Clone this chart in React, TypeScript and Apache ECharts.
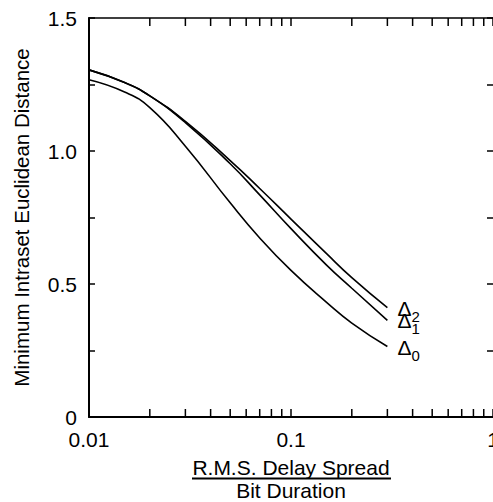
import React, { useEffect, useRef } from 'react';
import * as echarts from 'echarts';

const xValues = [0.01, 0.015, 0.02, 0.03, 0.05, 0.07, 0.1, 0.15, 0.2, 0.3];
const delta2 = [1.305, 1.2575, 1.2075, 1.111, 0.964, 0.859, 0.744, 0.614, 0.524, 0.411];
const delta1 = [1.305, 1.2575, 1.2075, 1.107, 0.952, 0.835, 0.708, 0.571, 0.484, 0.363];
const delta0 = [1.268, 1.222, 1.163, 1.018, 0.805, 0.673, 0.551, 0.431, 0.353, 0.265];
const seriesSubs = ['2', '1', '0'];
const minorTickValues = [0.02, 0.03, 0.04, 0.05, 0.06, 0.07, 0.08, 0.09, 0.2, 0.3, 0.4, 0.5, 0.6, 0.7, 0.8, 0.9];
const yLabelMap: Record<string, string> = { '0': '0', '0.5': '0.5', '1': '1.0', '1.5': '1.5' };
const xLabelMap: Record<string, string> = { '0.01': '0.01', '0.1': '0.1', '1': '1' };
const yAxisTitle = 'Minimum Intraset Euclidean Distance';
const xTitleTop = 'R.M.S. Delay Spread';
const xTitleBottom = 'Bit Duration';

const FONT = '"Liberation Sans", Arial, Helvetica, sans-serif';

export default function App() {
  const ref = useRef<HTMLDivElement>(null);
  useEffect(() => {
    document.body.style.margin = '0';
    const chart = echarts.init(ref.current!, null, { renderer: 'svg' });
    const allSeries = [delta2, delta1, delta0];
    const lineSeries = allSeries.map((vals, k) => ({
      type: 'line',
      xAxisIndex: 0,
      yAxisIndex: 0,
      data: xValues.map((x, i) => [x, vals[i]]),
      smooth: true,
      symbol: 'none',
      showSymbol: false,
      silent: true,
      lineStyle: { color: '#000', width: 1.6 },
      endLabel: {
        show: true,
        distance: 10,
        offset: [0, 3],
        formatter: `{d|Δ}{s|${seriesSubs[k]}}`,
        rich: {
          d: { fontFamily: FONT, fontSize: 21, color: '#000', lineHeight: 26, verticalAlign: 'top' },
          s: { fontFamily: FONT, fontSize: 15, color: '#000', lineHeight: 20, verticalAlign: 'bottom' },
        },
      },
    }));
    const option: any = {
      animation: false,
      textStyle: { fontFamily: FONT, color: '#000' },
      grid: { left: 89, top: 18, right: 0, bottom: 85, containLabel: false, outerBoundsMode: 'none' },
      xAxis: [
        {
          type: 'log',
          logBase: 10,
          min: 0.01,
          max: 1,
          position: 'bottom',
          axisLine: { onZero: false, lineStyle: { color: '#000', width: 2 } },
          axisTick: { inside: true, length: 8, lineStyle: { color: '#000', width: 1.5 } },
          axisLabel: {
            margin: 12,
            fontSize: 21,
            color: '#000',
            fontFamily: FONT,
            formatter: (v: number) => xLabelMap[String(+v.toPrecision(6))] ?? '',
          },
          splitLine: { show: false },
        },
        {
          type: 'log',
          logBase: 10,
          min: 0.01,
          max: 1,
          position: 'top',
          axisLine: { onZero: false, lineStyle: { color: '#000', width: 1.5 } },
          axisTick: { inside: true, length: 8, lineStyle: { color: '#000', width: 1.5 } },
          axisLabel: { show: false },
          splitLine: { show: false },
        },
      ],
      yAxis: [
        {
          type: 'value',
          min: 0,
          max: 1.5,
          interval: 0.25,
          position: 'left',
          name: yAxisTitle,
          nameLocation: 'middle',
          nameGap: 57,
          nameTextStyle: { fontSize: 20.5, color: '#000', fontFamily: FONT },
          axisLine: { onZero: false, lineStyle: { color: '#000', width: 2 } },
          axisTick: { inside: true, length: 6, lineStyle: { color: '#000', width: 1.5 } },
          axisLabel: {
            margin: 12,
            fontSize: 21,
            color: '#000',
            fontFamily: FONT,
            formatter: (v: number) => yLabelMap[String(+v.toFixed(2))] ?? '',
          },
          splitLine: { show: false },
        },
        {
          type: 'value',
          min: 0,
          max: 1.5,
          interval: 0.25,
          position: 'right',
          axisLine: { show: false, onZero: false },
          axisTick: { show: true, inside: true, length: 6, lineStyle: { color: '#000', width: 1.5 } },
          axisLabel: { show: false },
          splitLine: { show: false },
        },
      ],
      series: [
        ...lineSeries,
        {
          type: 'custom',
          xAxisIndex: 0,
          yAxisIndex: 0,
          silent: true,
          data: minorTickValues.map((v) => [v, 0]),
          renderItem: (params: any, api: any) => {
            const v = api.value(0);
            const pb = api.coord([v, 0]);
            const pt = api.coord([v, 1.5]);
            const st = { stroke: '#000', lineWidth: 1.5 };
            return {
              type: 'group',
              children: [
                { type: 'line', shape: { x1: pb[0], y1: pb[1], x2: pb[0], y2: pb[1] - 8 }, style: st },
                { type: 'line', shape: { x1: pt[0], y1: pt[1], x2: pt[0], y2: pt[1] + 8 }, style: st },
              ],
            };
          },
        },
      ],
      graphic: [
        {
          type: 'text',
          x: 291,
          y: 467,
          style: { text: xTitleTop, font: `21px ${FONT}`, fill: '#000', textAlign: 'center', textVerticalAlign: 'middle' },
        },
        {
          type: 'line',
          shape: { x1: 192, y1: 478.5, x2: 391, y2: 478.5 },
          style: { stroke: '#000', lineWidth: 1.8 },
        },
        {
          type: 'text',
          x: 291,
          y: 490,
          style: { text: xTitleBottom, font: `21px ${FONT}`, fill: '#000', textAlign: 'center', textVerticalAlign: 'middle' },
        },
      ],
    };
    chart.setOption(option);
    return () => chart.dispose();
  }, []);
  return <div ref={ref} style={{ position: 'absolute', left: 0, top: 0, width: 493, height: 502 }} />;
}
